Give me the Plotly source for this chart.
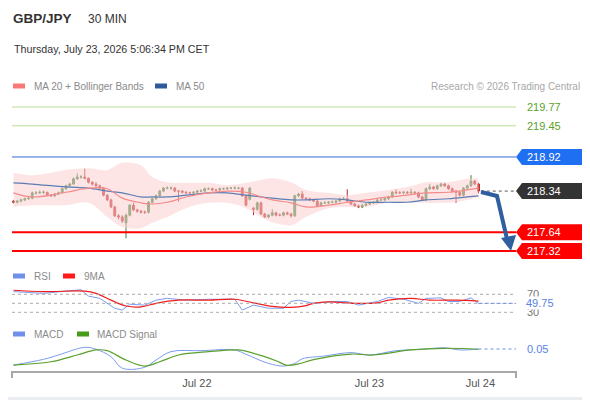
import plotly.graph_objects as go

W, H = 590, 400
FONT = "Liberation Sans, Arial, sans-serif"
PAGE_OFFSET = 8  # the browser puts the figure 8 px in from the top-left corner

# 30 min candles, GBP/JPY
opens = [218.17, 218.15, 218.17, 218.19, 218.21, 218.22, 218.31, 218.31, 218.32, 218.32,
         218.27, 218.26, 218.29, 218.31, 218.38, 218.43, 218.46, 218.55, 218.58, 218.58,
         218.56, 218.49, 218.46, 218.43, 218.39, 218.27, 218.19, 218.07, 217.92, 217.90,
         217.80, 217.93, 218.10, 218.02, 218.00, 217.98, 217.98, 218.15, 218.21, 218.26,
         218.34, 218.39, 218.39, 218.39, 218.34, 218.34, 218.32, 218.31, 218.31, 218.32,
         218.34, 218.34, 218.38, 218.38, 218.36, 218.36, 218.38, 218.38, 218.39, 218.39,
         218.39, 218.39, 218.26, 218.20, 218.05, 218.03, 218.14, 217.95, 217.90, 217.93,
         217.97, 217.93, 217.93, 217.97, 217.95, 217.92, 218.26, 218.29, 218.22, 218.21,
         218.19, 218.17, 218.09, 218.14, 218.14, 218.15, 218.15, 218.17, 218.21, 218.21,
         218.17, 218.12, 218.09, 218.07, 218.10, 218.12, 218.14, 218.15, 218.19, 218.19,
         218.21, 218.24, 218.32, 218.31, 218.31, 218.32, 218.31, 218.32, 218.31, 218.24,
         218.19, 218.38, 218.41, 218.38, 218.43, 218.46, 218.43, 218.38, 218.34, 218.32,
         218.27, 218.39, 218.43, 218.51, 218.46]
highs = [218.19, 218.19, 218.21, 218.23, 218.25, 218.33, 218.34, 218.35, 218.35, 218.33,
         218.29, 218.31, 218.33, 218.40, 218.45, 218.48, 218.57, 218.64, 218.61, 218.72,
         218.57, 218.51, 218.49, 218.45, 218.41, 218.29, 218.21, 218.09, 217.95, 217.93,
         217.96, 218.12, 218.14, 218.04, 218.02, 218.01, 218.17, 218.23, 218.28, 218.36,
         218.41, 218.42, 218.42, 218.41, 218.36, 218.36, 218.34, 218.33, 218.34, 218.36,
         218.37, 218.40, 218.40, 218.40, 218.38, 218.40, 218.40, 218.41, 218.41, 218.42,
         218.41, 218.41, 218.28, 218.41, 218.07, 218.16, 218.16, 217.97, 217.95, 218.03,
         217.99, 217.96, 217.99, 217.99, 217.97, 218.28, 218.31, 218.34, 218.24, 218.23,
         218.21, 218.19, 218.16, 218.17, 218.17, 218.18, 218.19, 218.23, 218.24, 218.37,
         218.19, 218.14, 218.11, 218.12, 218.14, 218.16, 218.17, 218.21, 218.22, 218.23,
         218.26, 218.34, 218.37, 218.34, 218.34, 218.34, 218.38, 218.34, 218.33, 218.26,
         218.40, 218.46, 218.43, 218.45, 218.48, 218.48, 218.45, 218.40, 218.36, 218.34,
         218.41, 218.45, 218.61, 218.53, 218.48]
lows = [218.13, 218.13, 218.15, 218.17, 218.19, 218.20, 218.28, 218.29, 218.29, 218.25,
        218.24, 218.24, 218.27, 218.30, 218.36, 218.41, 218.45, 218.53, 218.55, 218.54,
        218.47, 218.43, 218.41, 218.37, 218.25, 218.17, 218.05, 217.90, 217.86, 217.80,
        217.54, 217.91, 218.00, 217.97, 217.96, 217.95, 217.96, 218.13, 218.19, 218.24,
        218.32, 218.37, 218.36, 218.32, 218.16, 218.30, 218.29, 218.29, 218.29, 218.30,
        218.32, 218.32, 218.36, 218.34, 218.34, 218.34, 218.36, 218.36, 218.37, 218.37,
        218.37, 218.24, 218.08, 218.18, 217.93, 218.01, 217.93, 217.88, 217.88, 217.91,
        217.91, 217.91, 217.91, 217.93, 217.89, 217.90, 218.24, 218.20, 218.19, 218.17,
        218.15, 218.07, 218.07, 218.12, 218.12, 218.13, 218.13, 218.15, 218.19, 218.15,
        218.10, 218.07, 218.05, 218.05, 218.08, 218.10, 218.12, 218.13, 218.17, 218.17,
        218.19, 218.22, 218.29, 218.29, 218.29, 218.29, 218.29, 218.29, 218.22, 218.17,
        218.17, 218.36, 218.36, 218.36, 218.41, 218.41, 218.36, 218.32, 218.14, 218.25,
        218.25, 218.37, 218.41, 218.44, 218.30]
closes = [218.15, 218.17, 218.19, 218.21, 218.22, 218.31, 218.31, 218.32, 218.32, 218.27,
          218.26, 218.29, 218.31, 218.38, 218.43, 218.46, 218.55, 218.58, 218.58, 218.56,
          218.49, 218.46, 218.43, 218.39, 218.27, 218.19, 218.07, 217.92, 217.90, 217.83,
          217.93, 218.10, 218.02, 218.00, 217.98, 217.98, 218.15, 218.21, 218.26, 218.34,
          218.39, 218.39, 218.39, 218.34, 218.34, 218.32, 218.31, 218.31, 218.32, 218.34,
          218.34, 218.38, 218.38, 218.36, 218.36, 218.38, 218.38, 218.39, 218.39, 218.39,
          218.39, 218.26, 218.10, 218.39, 218.03, 218.14, 217.95, 217.90, 217.93, 217.97,
          217.93, 217.93, 217.97, 217.95, 217.92, 218.26, 218.29, 218.22, 218.21, 218.19,
          218.17, 218.09, 218.14, 218.14, 218.15, 218.15, 218.17, 218.21, 218.21, 218.17,
          218.12, 218.09, 218.07, 218.10, 218.12, 218.14, 218.15, 218.19, 218.19, 218.21,
          218.24, 218.32, 218.31, 218.31, 218.32, 218.31, 218.32, 218.31, 218.24, 218.19,
          218.38, 218.41, 218.38, 218.43, 218.46, 218.43, 218.38, 218.34, 218.32, 218.27,
          218.39, 218.43, 218.51, 218.46, 218.34]
bars = list(range(len(closes)))

# MA 20 + Bollinger bands, MA 50 (read at sample bars)
ma_bars = [0, 5, 14, 20, 25, 29, 34, 37, 41, 46, 52, 57, 62, 66, 69, 74, 78, 84, 89, 94,
           100, 105, 110, 116, 121, 124]
bb_upper = [218.65, 218.61, 218.70, 218.73, 218.70, 218.82, 218.78, 218.58, 218.49, 218.48,
            218.48, 218.44, 218.48, 218.53, 218.56, 218.49, 218.36, 218.31, 218.27, 218.31,
            218.36, 218.41, 218.49, 218.49, 218.55, 218.56]
bb_lower = [218.07, 218.10, 218.10, 218.14, 217.90, 217.73, 217.71, 217.80, 217.90, 218.05,
            218.14, 218.14, 218.05, 217.90, 217.81, 217.76, 217.90, 218.05, 218.07, 218.07,
            218.14, 218.15, 218.14, 218.14, 218.19, 218.24]
ma20 = [218.31, 218.24, 218.32, 218.39, 218.38, 218.22, 218.14, 218.12, 218.15, 218.24,
        218.31, 218.34, 218.32, 218.24, 218.19, 218.14, 218.07, 218.10, 218.15, 218.19,
        218.24, 218.27, 218.31, 218.32, 218.36, 218.39]
ma50 = [218.48, 218.46, 218.41, 218.39, 218.34, 218.31, 218.24, 218.24, 218.24, 218.27,
        218.31, 218.31, 218.27, 218.24, 218.22, 218.19, 218.19, 218.21, 218.19, 218.15,
        218.15, 218.15, 218.19, 218.21, 218.24, 218.26]

rsi_bars = [0, 8, 15, 18, 20, 23, 27, 29, 31, 35, 38, 41, 46, 52, 59, 61, 64, 68, 72, 74,
            76, 80, 85, 89, 92, 97, 100, 104, 108, 110, 114, 116, 119, 122, 124]
rsi = [76, 72, 78, 80, 66, 61, 39, 35, 48, 46, 57, 61, 57, 59, 59, 35, 46, 39, 39, 54,
       57, 50, 54, 54, 46, 54, 63, 59, 50, 61, 62, 54, 54, 62, 49.75]
rsi_ma_bars = [0, 8, 19, 22, 26, 30, 34, 38, 44, 52, 59, 64, 69, 74, 78, 80, 84, 91, 97,
               100, 106, 111, 118, 124]
rsi_ma = [79, 76, 77, 72, 57, 44, 42, 50, 57, 57, 59, 51, 43, 41, 45, 50, 53, 50, 51,
          57, 61, 57, 57, 55]

macd_bars = [0, 8, 12, 19, 22, 26, 29, 35, 38, 42, 50, 59, 62, 68, 72, 75, 77, 83, 90, 95,
             102, 109, 115, 119, 124]
macd = [-0.017, 0.007, 0.025, 0.057, 0.049, 0.018, -0.030, -0.026, 0.004, 0.039, 0.043,
        0.046, 0.028, -0.010, -0.021, -0.010, 0.009, 0.021, 0.035, 0.025, 0.043, 0.049,
        0.055, 0.046, 0.050]
signal_bars = [0, 10, 17, 22, 25, 30, 35, 39, 44, 52, 60, 64, 70, 73, 76, 80, 90, 96, 106,
               115, 124]
macd_signal = [-0.017, -0.003, 0.025, 0.046, 0.043, 0.004, -0.021, -0.003, 0.025, 0.039,
               0.046, 0.032, 0.001, -0.018, -0.012, 0.006, 0.029, 0.025, 0.046, 0.053, 0.049]

tick_bars = [48.9, 94.9, 124.5]
tick_labels = ["Jul 22", "Jul 23", "Jul 24"]

# key levels
resist_levels = [219.77, 219.45]
pivot_level = 218.92
last_price = 218.34
support_levels = [217.64, 217.32]
rsi_last = 49.75
macd_last = 0.05


def px(x):
    return (x - PAGE_OFFSET) / W


def py(y):
    return 1 - (y - PAGE_OFFSET) / H


fig = go.Figure()

fig.add_trace(go.Scatter(x=ma_bars, y=bb_upper, mode="lines", line=dict(width=0, shape="spline"),
                         hoverinfo="skip", showlegend=False))
fig.add_trace(go.Scatter(x=ma_bars, y=bb_lower, mode="lines", line=dict(width=0, shape="spline"),
                         fill="tonexty", fillcolor="rgba(252,208,208,0.55)",
                         hoverinfo="skip", showlegend=False))
fig.add_trace(go.Scatter(x=ma_bars, y=ma50, mode="lines",
                         line=dict(color="#5a7db5", width=1.2, shape="spline"), showlegend=False))
fig.add_trace(go.Scatter(x=ma_bars, y=ma20, mode="lines",
                         line=dict(color="#f48a8a", width=1.2, shape="spline"), showlegend=False))

fig.add_trace(go.Candlestick(
    x=bars, open=opens, high=highs, low=lows, close=closes,
    increasing=dict(line=dict(color="#3d7a3d", width=1), fillcolor="#2f9a3a"),
    decreasing=dict(line=dict(color="#b52a2a", width=1), fillcolor="#e51f1f"),
    whiskerwidth=0, showlegend=False))

# RSI panel
fig.add_trace(go.Scatter(x=rsi_bars, y=rsi, mode="lines", xaxis="x", yaxis="y2",
                         line=dict(color="#7b9cf0", width=1), showlegend=False))
fig.add_trace(go.Scatter(x=rsi_ma_bars, y=rsi_ma, mode="lines", xaxis="x", yaxis="y2",
                         line=dict(color="#f01c1c", width=1.2, shape="spline"), showlegend=False))

# MACD panel
fig.add_trace(go.Scatter(x=macd_bars, y=macd, mode="lines", xaxis="x", yaxis="y3",
                         line=dict(color="#7b9cf0", width=1, shape="spline"), showlegend=False))
fig.add_trace(go.Scatter(x=signal_bars, y=macd_signal, mode="lines", xaxis="x", yaxis="y3",
                         line=dict(color="#5aa02c", width=1.2, shape="spline"), showlegend=False))

shapes = []
annots = []

# card background
shapes.append(dict(type="rect", xref="paper", yref="paper", x0=px(0), x1=px(587),
                   y0=py(397), y1=py(0), fillcolor="white", line_width=0, layer="below"))

for lv in resist_levels:
    shapes.append(dict(type="line", xref="paper", yref="y", x0=px(12), x1=px(516), y0=lv, y1=lv,
                       line=dict(color="#b9dc92", width=1)))
    annots.append(dict(text=f"{lv:.2f}", xref="paper", yref="y", x=px(525), y=lv,
                       xanchor="left", yanchor="middle", showarrow=False,
                       font=dict(color="#5c9f2a", size=11)))

shapes.append(dict(type="line", xref="paper", yref="y", x0=px(12), x1=px(516),
                   y0=pivot_level, y1=pivot_level, line=dict(color="#3568d4", width=1)))
for lv in support_levels:
    shapes.append(dict(type="line", xref="paper", yref="y", x0=px(12), x1=px(516), y0=lv, y1=lv,
                       line=dict(color="#ff0000", width=2)))

shapes.append(dict(type="line", xref="x", yref="y", x0=bars[-1] + 0.6, x1=134,
                   y0=last_price, y1=last_price, line=dict(color="#555555", width=1, dash="dot")))

for lv, col in [(pivot_level, "#1f6ff2"), (last_price, "#333333"),
                (support_levels[0], "#ff0000"), (support_levels[1], "#ff0000")]:
    shapes.append(dict(type="path", xref="paper", yref="y", xsizemode="pixel", ysizemode="pixel",
                       xanchor=px(516), yanchor=lv,
                       path="M0,0 L6,8 L70,8 L70,-8 L6,-8 Z", fillcolor=col, line_width=0))
    annots.append(dict(text=f"{lv:.2f}", xref="paper", yref="y", x=px(525), y=lv,
                       xanchor="left", yanchor="middle", showarrow=False,
                       font=dict(color="white", size=11)))

# forecast arrow
shapes.append(dict(type="path", xref="paper", yref="paper",
                   path=f"M{px(481)},{py(192)} L{px(497)},{py(196)} L{px(507)},{py(239)}",
                   line=dict(color="#2f5f9f", width=4)))
shapes.append(dict(type="path", xref="paper", yref="paper",
                   path=f"M{px(501)},{py(238)} L{px(516)},{py(235)} L{px(511)},{py(251)} Z",
                   fillcolor="#2f5f9f", line_width=0))

# RSI guides
for lv in [70, 50, 30]:
    shapes.append(dict(type="line", xref="x", yref="y2", x0=-0.4, x1=134, y0=lv, y1=lv,
                       line=dict(color="#aaaaaa", width=1, dash="dot")))
shapes.append(dict(type="line", xref="x", yref="y2", x0=bars[-1], x1=134, y0=rsi_last, y1=rsi_last,
                   line=dict(color="#6f8fe8", width=1, dash="dot")))
shapes.append(dict(type="line", xref="x", yref="y3", x0=bars[-1], x1=134, y0=macd_last, y1=macd_last,
                   line=dict(color="#6f8fe8", width=1, dash="dot")))
annots.append(dict(text="70", xref="paper", yref="y2", x=px(525), y=70, xanchor="left",
                   yanchor="middle", showarrow=False, font=dict(color="#777777", size=11)))
annots.append(dict(text="30", xref="paper", yref="y2", x=px(525), y=30, xanchor="left",
                   yanchor="middle", showarrow=False, font=dict(color="#777777", size=11)))
annots.append(dict(text=f"{rsi_last:.2f}", xref="paper", yref="y2", x=px(525), y=rsi_last,
                   xanchor="left", yanchor="middle", showarrow=False, bgcolor="white",
                   borderpad=0, font=dict(color="#5b7fe6", size=11)))
annots.append(dict(text=f"{macd_last:.2f}", xref="paper", yref="y3", x=px(525), y=macd_last,
                   xanchor="left", yanchor="middle", showarrow=False,
                   font=dict(color="#5b7fe6", size=11)))

# bottom axis line with end ticks
shapes.append(dict(type="line", xref="paper", yref="paper", x0=px(12), x1=px(516),
                   y0=py(372), y1=py(372), line=dict(color="#a8a8a8", width=2)))
for xx in [12, 516]:
    shapes.append(dict(type="line", xref="paper", yref="paper", x0=px(xx), x1=px(xx),
                       y0=py(371), y1=py(378), line=dict(color="#a8a8a8", width=2)))

# header
annots.append(dict(text="<b>GBP/JPY</b>", xref="paper", yref="paper", x=px(11), y=py(19),
                   xanchor="left", yanchor="middle", showarrow=False,
                   font=dict(color="#333333", size=13.5)))
annots.append(dict(text="30 MIN", xref="paper", yref="paper", x=px(86), y=py(19),
                   xanchor="left", yanchor="middle", showarrow=False,
                   font=dict(color="#333333", size=12)))
annots.append(dict(text="Thursday, July 23, 2026 5:06:34 PM CET", xref="paper", yref="paper",
                   x=px(12), y=py(49), xanchor="left", yanchor="middle", showarrow=False,
                   font=dict(color="#333333", size=10.7)))
annots.append(dict(text="Research © 2026 Trading Central", xref="paper", yref="paper",
                   x=px(582), y=py(86), xanchor="right", yanchor="middle", showarrow=False,
                   font=dict(color="#a8a8a8", size=10)))

# legend swatches
legend_items = [
    (13, 86, "#f87878", "MA 20 + Bollinger Bands", 32),
    (155, 86, "#2f5a9a", "MA 50", 174),
    (13, 276, "#6f8fe8", "RSI", 32),
    (63, 276, "#ff1a1a", "9MA", 82),
    (13, 334, "#6f8fe8", "MACD", 32),
    (77, 334, "#4a9a1a", "MACD Signal", 95),
]
for x0, yy, col, label, tx in legend_items:
    shapes.append(dict(type="rect", xref="paper", yref="paper", x0=px(x0), x1=px(x0 + 12),
                       y0=py(yy + 2.5), y1=py(yy - 2.5), fillcolor=col, line_width=0))
    annots.append(dict(text=label, xref="paper", yref="paper", x=px(tx), y=py(yy),
                       xanchor="left", yanchor="middle", showarrow=False,
                       font=dict(color="#8a8a8a", size=10)))

fig.update_layout(
    width=W, height=H,
    margin=dict(l=0, r=0, t=0, b=0),
    paper_bgcolor="#eaedf1", plot_bgcolor="rgba(0,0,0,0)",
    font=dict(family=FONT),
    showlegend=False,
    shapes=shapes, annotations=annots,
    xaxis=dict(domain=[px(12), px(516)], range=[-0.4, 134], anchor="free", position=py(375),
               showgrid=False, zeroline=False, showline=False, ticks="",
               tickvals=tick_bars, ticktext=tick_labels,
               tickfont=dict(color="#555555", size=11), rangeslider=dict(visible=False)),
    yaxis=dict(domain=[py(262), py(95)], range=[217.134, 219.974], visible=False),
    yaxis2=dict(domain=[py(318), py(285)], range=[17.33, 90.67], visible=False, anchor="x"),
    yaxis3=dict(domain=[py(372), py(340)], range=[-0.0458, 0.0875], visible=False, anchor="x"),
)

fig.write_html("out.html")
